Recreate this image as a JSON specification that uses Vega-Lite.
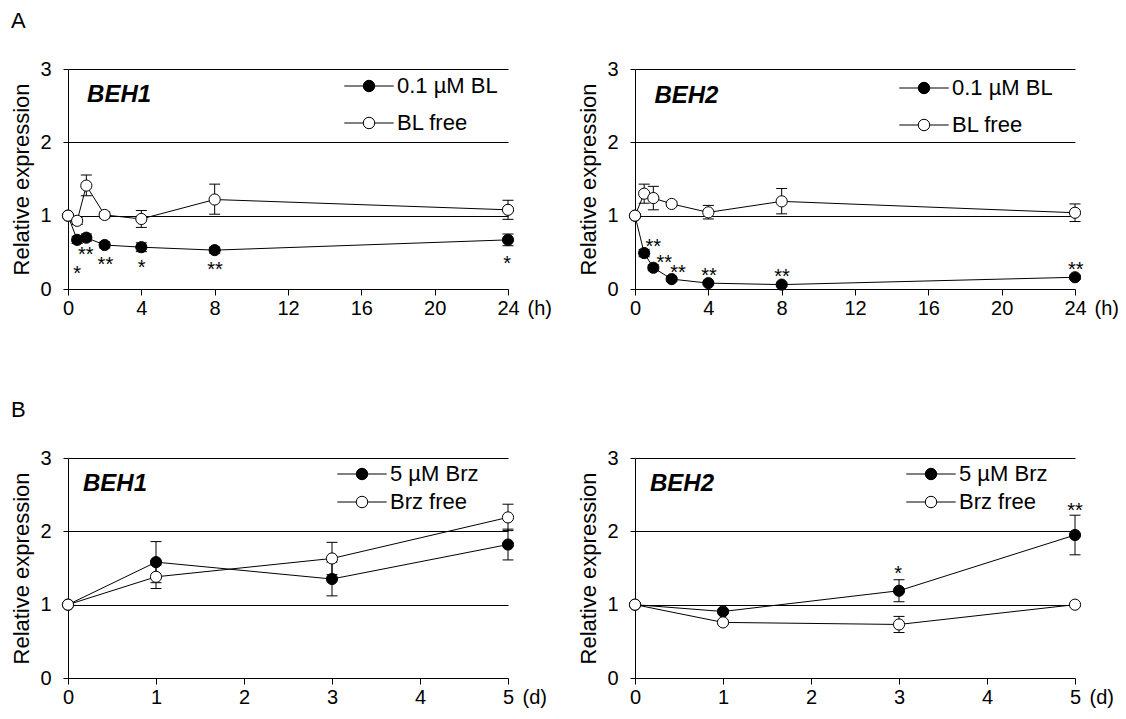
{
  "$schema": "https://vega.github.io/schema/vega-lite/v6.json",
  "background": "white",
  "padding": {"left": 10, "top": 10, "right": 5, "bottom": 5},
  "config": {
    "font": "Liberation Sans",
    "view": {"stroke": null},
    "axis": {
      "labelFont": "Liberation Sans", "titleFont": "Liberation Sans",
      "labelFontSize": 20, "titleFontSize": 22, "titleFontWeight": "normal",
      "labelColor": "black", "titleColor": "black",
      "domainColor": "black", "domainWidth": 1,
      "tickColor": "black", "tickWidth": 1,
      "gridColor": "black", "gridWidth": 1,
      "labelFlush": false, "labelOverlap": false
    },
    "legend": {
      "labelFont": "Liberation Sans", "labelFontSize": 22, "labelColor": "black",
      "symbolStrokeColor": "black", "symbolStrokeWidth": 1, "symbolOpacity": 1,
      "symbolType": "M-4.3,0L-1,0M1,0L4.3,0M1,0A1,1,0,1,1,-1,0A1,1,0,1,1,1,0Z",
      "symbolSize": 132, "labelOffset": 17, "padding": 0
    },
    "title": {"font": "Liberation Sans", "fontSize": 22, "fontWeight": "normal", "color": "black", "anchor": "start", "frame": "bounds", "baseline": "alphabetic", "offset": 26}
  },
  "datasets": {
    "expr": [
      {"panel": "A1", "series": "0.1 µM BL", "t": 0, "value": 1.0, "lo": null, "hi": null},
      {"panel": "A1", "series": "0.1 µM BL", "t": 0.5, "value": 0.67, "lo": 0.62, "hi": 0.72},
      {"panel": "A1", "series": "0.1 µM BL", "t": 1, "value": 0.70, "lo": 0.65, "hi": 0.75},
      {"panel": "A1", "series": "0.1 µM BL", "t": 2, "value": 0.60, "lo": 0.56, "hi": 0.64},
      {"panel": "A1", "series": "0.1 µM BL", "t": 4, "value": 0.57, "lo": 0.51, "hi": 0.63},
      {"panel": "A1", "series": "0.1 µM BL", "t": 8, "value": 0.53, "lo": 0.49, "hi": 0.57},
      {"panel": "A1", "series": "0.1 µM BL", "t": 24, "value": 0.67, "lo": 0.59, "hi": 0.75},
      {"panel": "A1", "series": "BL free", "t": 0, "value": 1.0, "lo": null, "hi": null},
      {"panel": "A1", "series": "BL free", "t": 0.5, "value": 0.93, "lo": 0.88, "hi": 0.98},
      {"panel": "A1", "series": "BL free", "t": 1, "value": 1.41, "lo": 1.27, "hi": 1.555},
      {"panel": "A1", "series": "BL free", "t": 2, "value": 1.01, "lo": 0.97, "hi": 1.05},
      {"panel": "A1", "series": "BL free", "t": 4, "value": 0.955, "lo": 0.84, "hi": 1.07},
      {"panel": "A1", "series": "BL free", "t": 8, "value": 1.22, "lo": 1.02, "hi": 1.43},
      {"panel": "A1", "series": "BL free", "t": 24, "value": 1.08, "lo": 0.95, "hi": 1.21},
      {"panel": "A2", "series": "0.1 µM BL", "t": 0, "value": 1.0, "lo": null, "hi": null},
      {"panel": "A2", "series": "0.1 µM BL", "t": 0.5, "value": 0.49, "lo": 0.44, "hi": 0.54},
      {"panel": "A2", "series": "0.1 µM BL", "t": 1, "value": 0.29, "lo": 0.25, "hi": 0.33},
      {"panel": "A2", "series": "0.1 µM BL", "t": 2, "value": 0.135, "lo": 0.105, "hi": 0.165},
      {"panel": "A2", "series": "0.1 µM BL", "t": 4, "value": 0.08, "lo": 0.06, "hi": 0.10},
      {"panel": "A2", "series": "0.1 µM BL", "t": 8, "value": 0.06, "lo": 0.04, "hi": 0.08},
      {"panel": "A2", "series": "0.1 µM BL", "t": 24, "value": 0.16, "lo": 0.13, "hi": 0.19},
      {"panel": "A2", "series": "BL free", "t": 0, "value": 1.0, "lo": null, "hi": null},
      {"panel": "A2", "series": "BL free", "t": 0.5, "value": 1.30, "lo": 1.17, "hi": 1.43},
      {"panel": "A2", "series": "BL free", "t": 1, "value": 1.24, "lo": 1.08, "hi": 1.40},
      {"panel": "A2", "series": "BL free", "t": 2, "value": 1.16, "lo": 1.13, "hi": 1.19},
      {"panel": "A2", "series": "BL free", "t": 4, "value": 1.045, "lo": 0.955, "hi": 1.14},
      {"panel": "A2", "series": "BL free", "t": 8, "value": 1.195, "lo": 1.025, "hi": 1.37},
      {"panel": "A2", "series": "BL free", "t": 24, "value": 1.04, "lo": 0.92, "hi": 1.16},
      {"panel": "B1", "series": "5 µM Brz", "t": 0, "value": 1.0, "lo": null, "hi": null},
      {"panel": "B1", "series": "5 µM Brz", "t": 1, "value": 1.58, "lo": 1.30, "hi": 1.86},
      {"panel": "B1", "series": "5 µM Brz", "t": 3, "value": 1.35, "lo": 1.12, "hi": 1.58},
      {"panel": "B1", "series": "5 µM Brz", "t": 5, "value": 1.82, "lo": 1.61, "hi": 2.03},
      {"panel": "B1", "series": "Brz free", "t": 0, "value": 1.0, "lo": null, "hi": null},
      {"panel": "B1", "series": "Brz free", "t": 1, "value": 1.38, "lo": 1.22, "hi": 1.54},
      {"panel": "B1", "series": "Brz free", "t": 3, "value": 1.63, "lo": 1.41, "hi": 1.85},
      {"panel": "B1", "series": "Brz free", "t": 5, "value": 2.19, "lo": 2.01, "hi": 2.37},
      {"panel": "B2", "series": "5 µM Brz", "t": 0, "value": 1.0, "lo": null, "hi": null},
      {"panel": "B2", "series": "5 µM Brz", "t": 1, "value": 0.907, "lo": 0.88, "hi": 0.935},
      {"panel": "B2", "series": "5 µM Brz", "t": 3, "value": 1.19, "lo": 1.04, "hi": 1.34},
      {"panel": "B2", "series": "5 µM Brz", "t": 5, "value": 1.95, "lo": 1.68, "hi": 2.22},
      {"panel": "B2", "series": "Brz free", "t": 0, "value": 1.0, "lo": null, "hi": null},
      {"panel": "B2", "series": "Brz free", "t": 1, "value": 0.758, "lo": 0.73, "hi": 0.785},
      {"panel": "B2", "series": "Brz free", "t": 3, "value": 0.73, "lo": 0.62, "hi": 0.84},
      {"panel": "B2", "series": "Brz free", "t": 5, "value": 1.0, "lo": 0.98, "hi": 1.02}
    ],
    "sig": [
      {"panel": "A1", "t": 0.5, "y": 0.27, "label": "*"},
      {"panel": "A1", "t": 0.97, "y": 0.535, "label": "**"},
      {"panel": "A1", "t": 2.04, "y": 0.40, "label": "**"},
      {"panel": "A1", "t": 4.02, "y": 0.36, "label": "*"},
      {"panel": "A1", "t": 8.02, "y": 0.33, "label": "**"},
      {"panel": "A1", "t": 23.95, "y": 0.41, "label": "*"},
      {"panel": "A2", "t": 1.0, "y": 0.64, "label": "**"},
      {"panel": "A2", "t": 1.6, "y": 0.42, "label": "**"},
      {"panel": "A2", "t": 2.35, "y": 0.28, "label": "**"},
      {"panel": "A2", "t": 4.04, "y": 0.25, "label": "**"},
      {"panel": "A2", "t": 8.02, "y": 0.23, "label": "**"},
      {"panel": "A2", "t": 24.04, "y": 0.33, "label": "**"},
      {"panel": "B2", "t": 2.99, "y": 1.49, "label": "*"},
      {"panel": "B2", "t": 5.0, "y": 2.35, "label": "**"}
    ],
    "genes": [
      {"panel": "A1", "gene": "BEH1", "gx": 1.04, "gy": 2.64},
      {"panel": "A2", "gene": "BEH2", "gx": 1.06, "gy": 2.63},
      {"panel": "B1", "gene": "BEH1", "gx": 0.17, "gy": 2.645},
      {"panel": "B2", "gene": "BEH2", "gx": 0.17, "gy": 2.645}
    ]
  },
  "columns": 2,
  "bounds": "flush",
  "spacing": {"row": 169, "column": 127},
  "resolve": {
    "scale": {"x": "independent", "y": "independent", "fill": "independent"},
    "axis": {"x": "independent", "y": "independent"},
    "legend": {"fill": "independent"}
  },
  "concat": [
    {
      "width": 440, "height": 220,
      "title": {"text": "A"},
      "data": {"name": "expr"},
      "transform": [{"filter": "datum.panel === 'A1'"}],
      "encoding": {
        "x": {"field": "t", "type": "quantitative", "scale": {"domain": [0, 24], "nice": false, "zero": false},
          "axis": {"values": [0, 4, 8, 12, 16, 20, 24], "title": "(h)", "titleX": 459, "titleY": 9, "titleAlign": "left", "titleBaseline": "top", "titleAngle": 0, "titleFontSize": 20, "tickSize": 6, "labelPadding": 3, "grid": false}}
      },
      "layer": [
        {
          "transform": [{"filter": "datum.lo != null"}],
          "mark": {"type": "rule", "color": "black", "strokeWidth": 1},
          "encoding": {
            "y": {"field": "lo", "type": "quantitative", "scale": {"domain": [0, 3], "nice": false},
              "axis": {"title": "Relative expression", "values": [0, 0.5, 1, 1.5, 2, 2.5, 3], "labelExpr": "datum.value % 1 === 0 ? '' + datum.value : ''",
                "tickSize": {"condition": {"test": "datum.value % 1 !== 0", "value": -5}, "value": 5},
                "grid": true, "gridOpacity": {"condition": {"test": "datum.value % 1 === 0 && datum.value > 0", "value": 1}, "value": 0},
                "labelPadding": 12, "titlePadding": 6}},
            "y2": {"field": "hi"}
          }
        },
        {
          "transform": [{"filter": "datum.lo != null"}],
          "mark": {"type": "tick", "orient": "horizontal", "color": "black", "size": 11, "thickness": 1, "opacity": 1},
          "encoding": {"y": {"field": "lo", "type": "quantitative", "scale": {"domain": [0, 3], "nice": false}}}
        },
        {
          "transform": [{"filter": "datum.lo != null"}],
          "mark": {"type": "tick", "orient": "horizontal", "color": "black", "size": 11, "thickness": 1, "opacity": 1},
          "encoding": {"y": {"field": "hi", "type": "quantitative", "scale": {"domain": [0, 3], "nice": false}}}
        },
        {
          "mark": {"type": "line", "color": "black", "strokeWidth": 1},
          "encoding": {"y": {"field": "value", "type": "quantitative", "scale": {"domain": [0, 3], "nice": false}}, "detail": {"field": "series"}}
        },
        {
          "mark": {"type": "point", "shape": "circle", "filled": true, "size": 125, "stroke": "black", "strokeWidth": 1, "opacity": 1},
          "encoding": {
            "y": {"field": "value", "type": "quantitative", "scale": {"domain": [0, 3], "nice": false}},
            "fill": {"field": "series", "type": "nominal", "scale": {"domain": ["0.1 µM BL", "BL free"], "range": ["black", "white"]},
              "legend": {"title": null, "orient": "none", "legendX": 290, "legendY": 6, "rowPadding": 15}}
          }
        },
        {
          "data": {"name": "sig"},
          "transform": [{"filter": "datum.panel === 'A1'"}],
          "mark": {"type": "text", "fontSize": 20, "align": "center", "baseline": "middle", "dy": 5, "color": "black"},
          "encoding": {"y": {"field": "y", "type": "quantitative", "scale": {"domain": [0, 3], "nice": false}}, "text": {"field": "label"}}
        },
        {
          "data": {"name": "genes"},
          "transform": [{"filter": "datum.panel === 'A1'"}],
          "mark": {"type": "text", "fontSize": 24, "fontWeight": "bold", "fontStyle": "italic", "align": "left", "baseline": "middle", "color": "black"},
          "encoding": {"x": {"field": "gx", "type": "quantitative"}, "y": {"field": "gy", "type": "quantitative", "scale": {"domain": [0, 3], "nice": false}}, "text": {"field": "gene"}}
        }
      ]
    },
    {
      "width": 440, "height": 220,
      "data": {"name": "expr"},
      "transform": [{"filter": "datum.panel === 'A2'"}],
      "encoding": {
        "x": {"field": "t", "type": "quantitative", "scale": {"domain": [0, 24], "nice": false, "zero": false},
          "axis": {"values": [0, 4, 8, 12, 16, 20, 24], "title": "(h)", "titleX": 459, "titleY": 9, "titleAlign": "left", "titleBaseline": "top", "titleAngle": 0, "titleFontSize": 20, "tickSize": 6, "labelPadding": 3, "grid": false}}
      },
      "layer": [
        {
          "transform": [{"filter": "datum.lo != null"}],
          "mark": {"type": "rule", "color": "black", "strokeWidth": 1},
          "encoding": {
            "y": {"field": "lo", "type": "quantitative", "scale": {"domain": [0, 3], "nice": false},
              "axis": {"title": "Relative expression", "values": [0, 0.5, 1, 1.5, 2, 2.5, 3], "labelExpr": "datum.value % 1 === 0 ? '' + datum.value : ''",
                "tickSize": {"condition": {"test": "datum.value % 1 !== 0", "value": -5}, "value": 5},
                "grid": true, "gridOpacity": {"condition": {"test": "datum.value % 1 === 0 && datum.value > 0", "value": 1}, "value": 0},
                "labelPadding": 12, "titlePadding": 6}},
            "y2": {"field": "hi"}
          }
        },
        {
          "transform": [{"filter": "datum.lo != null"}],
          "mark": {"type": "tick", "orient": "horizontal", "color": "black", "size": 11, "thickness": 1, "opacity": 1},
          "encoding": {"y": {"field": "lo", "type": "quantitative", "scale": {"domain": [0, 3], "nice": false}}}
        },
        {
          "transform": [{"filter": "datum.lo != null"}],
          "mark": {"type": "tick", "orient": "horizontal", "color": "black", "size": 11, "thickness": 1, "opacity": 1},
          "encoding": {"y": {"field": "hi", "type": "quantitative", "scale": {"domain": [0, 3], "nice": false}}}
        },
        {
          "mark": {"type": "line", "color": "black", "strokeWidth": 1},
          "encoding": {"y": {"field": "value", "type": "quantitative", "scale": {"domain": [0, 3], "nice": false}}, "detail": {"field": "series"}}
        },
        {
          "mark": {"type": "point", "shape": "circle", "filled": true, "size": 125, "stroke": "black", "strokeWidth": 1, "opacity": 1},
          "encoding": {
            "y": {"field": "value", "type": "quantitative", "scale": {"domain": [0, 3], "nice": false}},
            "fill": {"field": "series", "type": "nominal", "scale": {"domain": ["0.1 µM BL", "BL free"], "range": ["black", "white"]},
              "legend": {"title": null, "orient": "none", "legendX": 278, "legendY": 8, "rowPadding": 15}}
          }
        },
        {
          "data": {"name": "sig"},
          "transform": [{"filter": "datum.panel === 'A2'"}],
          "mark": {"type": "text", "fontSize": 20, "align": "center", "baseline": "middle", "dy": 5, "color": "black"},
          "encoding": {"y": {"field": "y", "type": "quantitative", "scale": {"domain": [0, 3], "nice": false}}, "text": {"field": "label"}}
        },
        {
          "data": {"name": "genes"},
          "transform": [{"filter": "datum.panel === 'A2'"}],
          "mark": {"type": "text", "fontSize": 24, "fontWeight": "bold", "fontStyle": "italic", "align": "left", "baseline": "middle", "color": "black"},
          "encoding": {"x": {"field": "gx", "type": "quantitative"}, "y": {"field": "gy", "type": "quantitative", "scale": {"domain": [0, 3], "nice": false}}, "text": {"field": "gene"}}
        }
      ]
    },
    {
      "width": 440, "height": 220,
      "title": {"text": "B"},
      "data": {"name": "expr"},
      "transform": [{"filter": "datum.panel === 'B1'"}],
      "encoding": {
        "x": {"field": "t", "type": "quantitative", "scale": {"domain": [0, 5], "nice": false, "zero": false},
          "axis": {"values": [0, 1, 2, 3, 4, 5], "title": "(d)", "titleX": 454, "titleY": 9, "titleAlign": "left", "titleBaseline": "top", "titleAngle": 0, "titleFontSize": 20, "tickSize": 6, "labelPadding": 3, "grid": false}}
      },
      "layer": [
        {
          "transform": [{"filter": "datum.lo != null"}],
          "mark": {"type": "rule", "color": "black", "strokeWidth": 1},
          "encoding": {
            "y": {"field": "lo", "type": "quantitative", "scale": {"domain": [0, 3], "nice": false},
              "axis": {"title": "Relative expression", "values": [0, 0.5, 1, 1.5, 2, 2.5, 3], "labelExpr": "datum.value % 1 === 0 ? '' + datum.value : ''",
                "tickSize": {"condition": {"test": "datum.value % 1 !== 0", "value": -5}, "value": 5},
                "grid": true, "gridOpacity": {"condition": {"test": "datum.value % 1 === 0 && datum.value > 0", "value": 1}, "value": 0},
                "labelPadding": 12, "titlePadding": 6}},
            "y2": {"field": "hi"}
          }
        },
        {
          "transform": [{"filter": "datum.lo != null"}],
          "mark": {"type": "tick", "orient": "horizontal", "color": "black", "size": 11, "thickness": 1, "opacity": 1},
          "encoding": {"y": {"field": "lo", "type": "quantitative", "scale": {"domain": [0, 3], "nice": false}}}
        },
        {
          "transform": [{"filter": "datum.lo != null"}],
          "mark": {"type": "tick", "orient": "horizontal", "color": "black", "size": 11, "thickness": 1, "opacity": 1},
          "encoding": {"y": {"field": "hi", "type": "quantitative", "scale": {"domain": [0, 3], "nice": false}}}
        },
        {
          "mark": {"type": "line", "color": "black", "strokeWidth": 1},
          "encoding": {"y": {"field": "value", "type": "quantitative", "scale": {"domain": [0, 3], "nice": false}}, "detail": {"field": "series"}}
        },
        {
          "mark": {"type": "point", "shape": "circle", "filled": true, "size": 125, "stroke": "black", "strokeWidth": 1, "opacity": 1},
          "encoding": {
            "y": {"field": "value", "type": "quantitative", "scale": {"domain": [0, 3], "nice": false}},
            "fill": {"field": "series", "type": "nominal", "scale": {"domain": ["5 µM Brz", "Brz free"], "range": ["black", "white"]},
              "legend": {"title": null, "orient": "none", "legendX": 283, "legendY": 5, "rowPadding": 6}}
          }
        },
        {
          "data": {"name": "genes"},
          "transform": [{"filter": "datum.panel === 'B1'"}],
          "mark": {"type": "text", "fontSize": 24, "fontWeight": "bold", "fontStyle": "italic", "align": "left", "baseline": "middle", "color": "black"},
          "encoding": {"x": {"field": "gx", "type": "quantitative"}, "y": {"field": "gy", "type": "quantitative", "scale": {"domain": [0, 3], "nice": false}}, "text": {"field": "gene"}}
        }
      ]
    },
    {
      "width": 440, "height": 220,
      "data": {"name": "expr"},
      "transform": [{"filter": "datum.panel === 'B2'"}],
      "encoding": {
        "x": {"field": "t", "type": "quantitative", "scale": {"domain": [0, 5], "nice": false, "zero": false},
          "axis": {"values": [0, 1, 2, 3, 4, 5], "title": "(d)", "titleX": 454, "titleY": 9, "titleAlign": "left", "titleBaseline": "top", "titleAngle": 0, "titleFontSize": 20, "tickSize": 6, "labelPadding": 3, "grid": false}}
      },
      "layer": [
        {
          "transform": [{"filter": "datum.lo != null"}],
          "mark": {"type": "rule", "color": "black", "strokeWidth": 1},
          "encoding": {
            "y": {"field": "lo", "type": "quantitative", "scale": {"domain": [0, 3], "nice": false},
              "axis": {"title": "Relative expression", "values": [0, 0.5, 1, 1.5, 2, 2.5, 3], "labelExpr": "datum.value % 1 === 0 ? '' + datum.value : ''",
                "tickSize": {"condition": {"test": "datum.value % 1 !== 0", "value": -5}, "value": 5},
                "grid": true, "gridOpacity": {"condition": {"test": "datum.value % 1 === 0 && datum.value > 0", "value": 1}, "value": 0},
                "labelPadding": 12, "titlePadding": 6}},
            "y2": {"field": "hi"}
          }
        },
        {
          "transform": [{"filter": "datum.lo != null"}],
          "mark": {"type": "tick", "orient": "horizontal", "color": "black", "size": 11, "thickness": 1, "opacity": 1},
          "encoding": {"y": {"field": "lo", "type": "quantitative", "scale": {"domain": [0, 3], "nice": false}}}
        },
        {
          "transform": [{"filter": "datum.lo != null"}],
          "mark": {"type": "tick", "orient": "horizontal", "color": "black", "size": 11, "thickness": 1, "opacity": 1},
          "encoding": {"y": {"field": "hi", "type": "quantitative", "scale": {"domain": [0, 3], "nice": false}}}
        },
        {
          "mark": {"type": "line", "color": "black", "strokeWidth": 1},
          "encoding": {"y": {"field": "value", "type": "quantitative", "scale": {"domain": [0, 3], "nice": false}}, "detail": {"field": "series"}}
        },
        {
          "mark": {"type": "point", "shape": "circle", "filled": true, "size": 125, "stroke": "black", "strokeWidth": 1, "opacity": 1},
          "encoding": {
            "y": {"field": "value", "type": "quantitative", "scale": {"domain": [0, 3], "nice": false}},
            "fill": {"field": "series", "type": "nominal", "scale": {"domain": ["5 µM Brz", "Brz free"], "range": ["black", "white"]},
              "legend": {"title": null, "orient": "none", "legendX": 285, "legendY": 5, "rowPadding": 6}}
          }
        },
        {
          "data": {"name": "sig"},
          "transform": [{"filter": "datum.panel === 'B2'"}],
          "mark": {"type": "text", "fontSize": 20, "align": "center", "baseline": "middle", "dy": 5, "color": "black"},
          "encoding": {"y": {"field": "y", "type": "quantitative", "scale": {"domain": [0, 3], "nice": false}}, "text": {"field": "label"}}
        },
        {
          "data": {"name": "genes"},
          "transform": [{"filter": "datum.panel === 'B2'"}],
          "mark": {"type": "text", "fontSize": 24, "fontWeight": "bold", "fontStyle": "italic", "align": "left", "baseline": "middle", "color": "black"},
          "encoding": {"x": {"field": "gx", "type": "quantitative"}, "y": {"field": "gy", "type": "quantitative", "scale": {"domain": [0, 3], "nice": false}}, "text": {"field": "gene"}}
        }
      ]
    }
  ]
}
